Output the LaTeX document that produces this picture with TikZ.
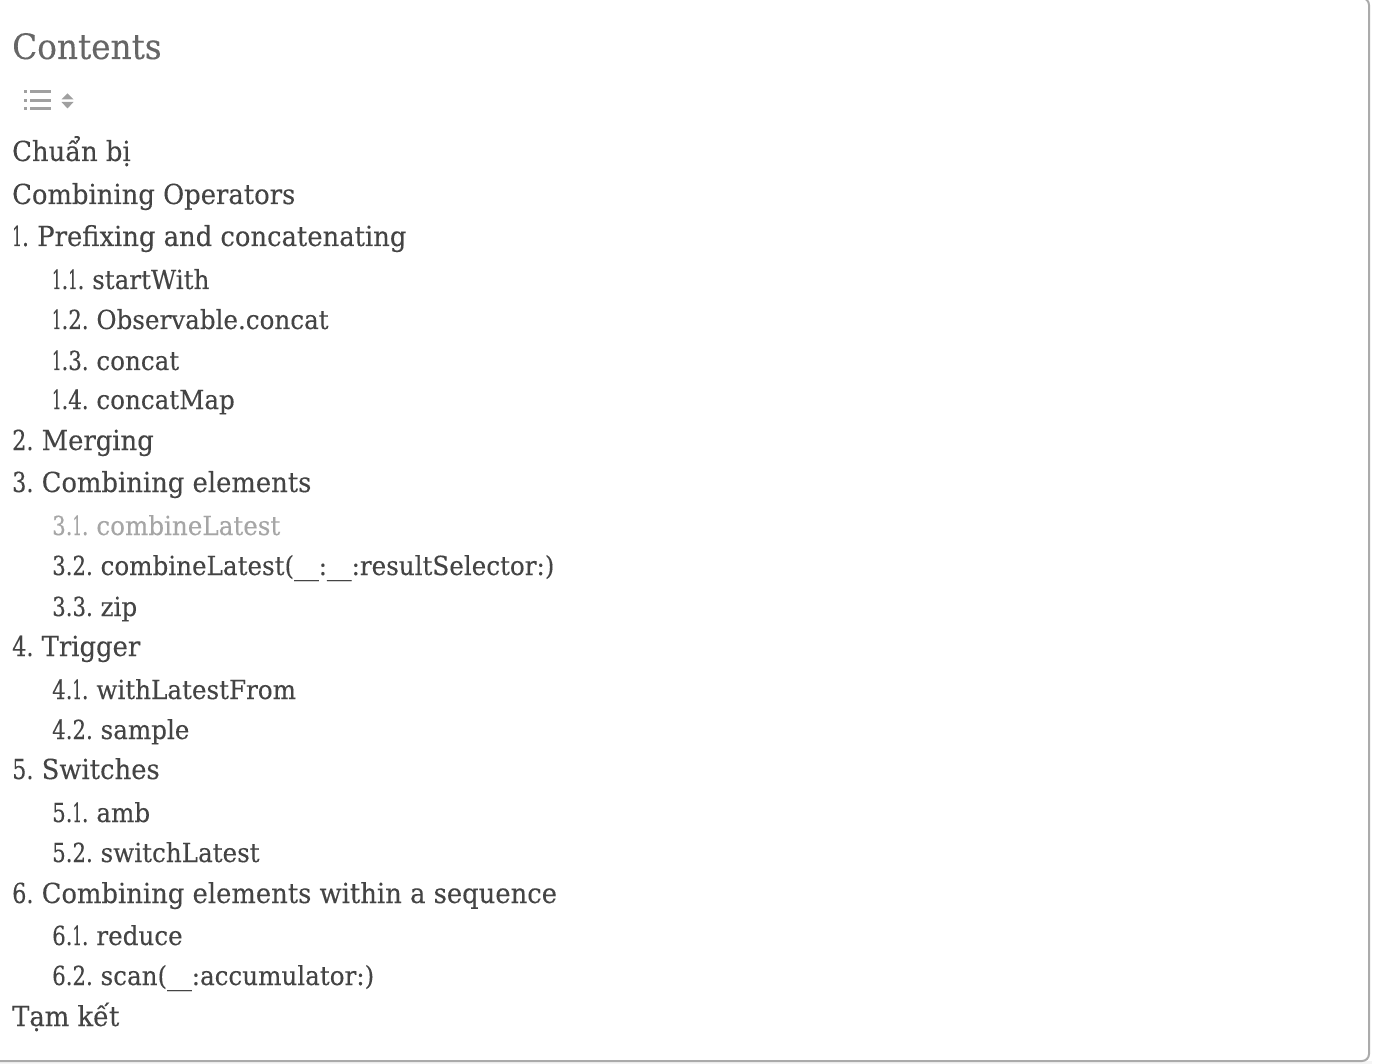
\documentclass[tikz,border=0pt]{standalone}
\usepackage{fontspec}
\setmainfont[FakeStretch=1.04,FakeBold=0.18]{DejaVu Serif Condensed}
\newfontfamily\numfont[FakeStretch=0.9,FakeBold=0.18]{DejaVu Serif Condensed}
\newfontfamily\onefont[FakeStretch=0.62,FakeBold=0.18]{DejaVu Serif Condensed}
\frenchspacing
\usetikzlibrary{positioning}

\definecolor{headgray}{HTML}{666666}
\definecolor{itemgray}{HTML}{444444}
\definecolor{activegray}{HTML}{A6A6A6}
\definecolor{icongray}{HTML}{A0A0A0}
\definecolor{framegray}{HTML}{ABABAB}

\newcommand{\one}{{\onefont 1}}
\newcommand{\nr}[1]{{\numfont #1}}
\newcommand{\wideus}{\scalebox{2}[1]{\_}}

\tikzset{
    heading/.style={anchor=base west, inner sep=0pt, text=headgray, font=\fontsize{35}{40}\selectfont},
    item/.style={anchor=base west, inner sep=0pt, text=itemgray, font=\fontsize{27.6}{32}\selectfont},
    subitem/.style={item, font=\fontsize{26.3}{32}\selectfont},
    activeitem/.style={subitem, text=activegray},
    iconbar/.style={draw=icongray, line width=3pt},
    framerule/.style={draw=framegray, line width=2pt, rounded corners=7pt},
}

\begin{document}
\begin{tikzpicture}[x=1pt, y=-1pt]
    \useasboundingbox[clip] (0,0) rectangle (1378,1064);
    \fill[white] (0,0) rectangle (1378,1064);
    \fill[black!4] (0,1061) rectangle (1372,1064);

    % frame: only right and bottom edges show
    \coordinate (frameTL) at (-10,-2);
    \coordinate (frameTR) at (1369,-2);
    \coordinate (frameBR) at (1369,1061);
    \coordinate (frameBL) at (-10,1061);
    \draw[framerule] (frameTL) -- (frameTR) -- (frameBR) -- (frameBL);

    \node[heading] (contents) at (12,59) {Contents};

    % list icon
    \foreach \y in {92,100.5,109} {
        \draw[iconbar] (24,\y) -- (27,\y);
        \draw[iconbar] (30,\y) -- (51,\y);
    }
    % sort icon
    \fill[icongray] (61.5,99.5) -- (67.5,93.5) -- (73.5,99.5) -- cycle;
    \fill[icongray] (61.5,102) -- (67.5,108.5) -- (73.5,102) -- cycle;

    \node[item] (prep) at (12,161) {Chuẩn bị};
    \node[item] (combining) at (12,204) {Combining Operators};
    \node[item] (s1) at (12,246) {\nr{\one.} Prefixing and concatenating};
    \node[subitem] (s11) at (52,289) {\nr{\one.\one.} startWith};
    \node[subitem] (s12) at (52,329) {\nr{\one.2.} Observable.concat};
    \node[subitem] (s13) at (52,370) {\nr{\one.3.} concat};
    \node[subitem] (s14) at (52,409) {\nr{\one.4.} concatMap};
    \node[item] (s2) at (12,450) {\nr{2.} Merging};
    \node[item] (s3) at (12,492) {\nr{3.} Combining elements};
    \node[activeitem] (s31) at (52,535) {\nr{3.\one.} combineLatest};
    \node[subitem] (s32) at (52,575) {\nr{3.2.} combineLatest(\wideus:\wideus:resultSelector:)};
    \node[subitem] (s33) at (52,616) {\nr{3.3.} zip};
    \node[item] (s4) at (12,656) {\nr{4.} Trigger};
    \node[subitem] (s41) at (52,699) {\nr{4.\one.} withLatestFrom};
    \node[subitem] (s42) at (52,739) {\nr{4.2.} sample};
    \node[item] (s5) at (12,779) {\nr{5.} Switches};
    \node[subitem] (s51) at (52,822) {\nr{5.\one.} amb};
    \node[subitem] (s52) at (52,862) {\nr{5.2.} switchLatest};
    \node[item] (s6) at (12,903) {\nr{6.} Combining elements within a sequence};
    \node[subitem] (s61) at (52,945) {\nr{6.\one.} reduce};
    \node[subitem] (s62) at (52,985) {\nr{6.2.} scan(\wideus:accumulator:)};
    \node[item] (wrapup) at (12,1026) {Tạm kết};
\end{tikzpicture}
\end{document}
